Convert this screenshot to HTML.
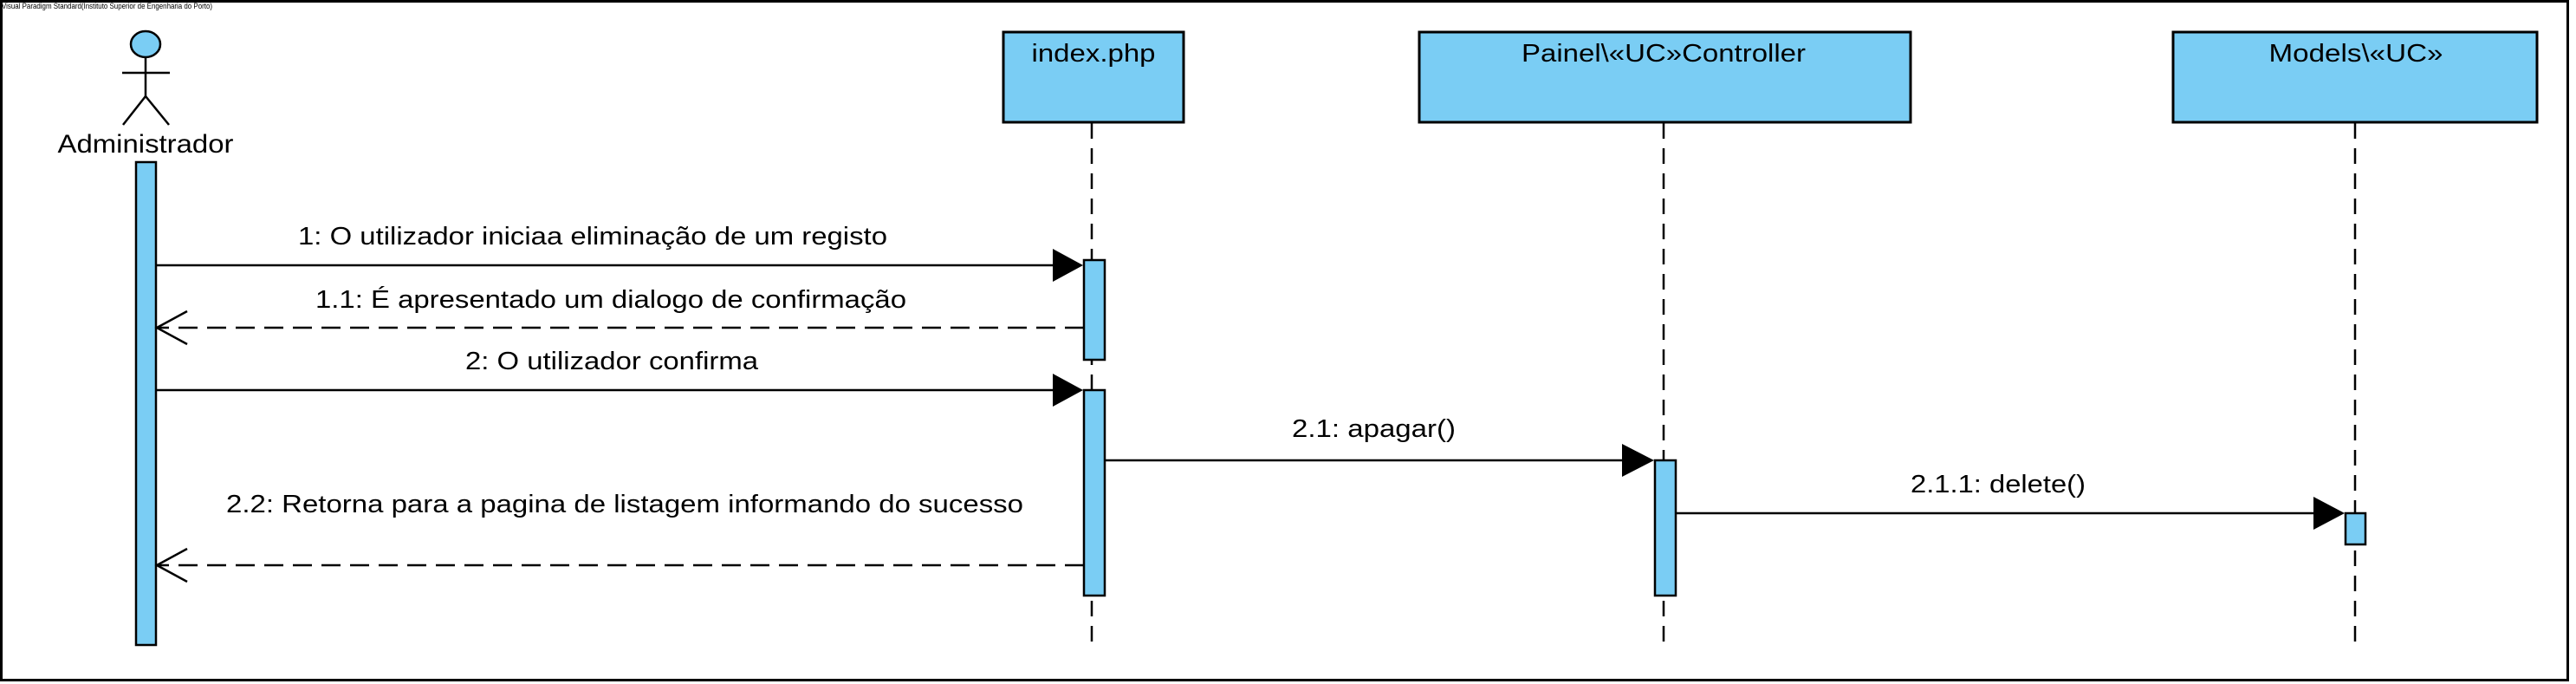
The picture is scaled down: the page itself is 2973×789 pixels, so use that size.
<!DOCTYPE html>
<html><head><meta charset="utf-8"><style>
html,body{margin:0;padding:0;background:#fff;}
svg{display:block;}
text{font-family:"Liberation Sans",Arial,sans-serif;fill:#000;}
</style></head><body>
<svg width="2973" height="789" viewBox="0 0 2973 789" xmlns="http://www.w3.org/2000/svg">
<rect x="1.5" y="1.5" width="2962" height="783" fill="#fff" stroke="#000" stroke-width="3"/>
<text x="2" y="10" font-size="9" textLength="243" lengthAdjust="spacingAndGlyphs" fill="#555">Visual Paradigm Standard(Instituto Superior de Engenharia do Porto)</text>

<!-- Actor -->
<g stroke="#000" stroke-width="2.5" fill="none">
<ellipse cx="168" cy="51" rx="17" ry="15" fill="#7ACDF4"/>
<line x1="168" y1="66" x2="168" y2="111"/>
<line x1="141" y1="84" x2="196" y2="84"/>
<line x1="168" y1="111" x2="142" y2="144"/>
<line x1="168" y1="111" x2="195" y2="144"/>
</g>
<text x="168" y="176" font-size="30" text-anchor="middle" textLength="203" lengthAdjust="spacingAndGlyphs">Administrador</text>

<!-- Boxes -->
<g stroke="#000" stroke-width="3" fill="#7ACDF4">
<rect x="1158" y="37" width="208" height="104"/>
<rect x="1638" y="37" width="567" height="104"/>
<rect x="2508" y="37" width="420" height="104"/>
</g>
<text x="1262" y="71" font-size="29" text-anchor="middle" textLength="143" lengthAdjust="spacingAndGlyphs">index.php</text>
<text x="1920" y="71" font-size="29" text-anchor="middle" textLength="328" lengthAdjust="spacingAndGlyphs">Painel\«UC»Controller</text>
<text x="2719" y="71" font-size="29" text-anchor="middle" textLength="201" lengthAdjust="spacingAndGlyphs">Models\«UC»</text>

<!-- Lifelines -->
<g stroke="#000" stroke-width="2.5" stroke-dasharray="18,11">
<line x1="1260" y1="142" x2="1260" y2="748"/>
<line x1="1920" y1="142" x2="1920" y2="748"/>
<line x1="2718" y1="142" x2="2718" y2="748"/>
</g>

<!-- Activations -->
<g stroke="#000" stroke-width="2.5" fill="#7ACDF4">
<rect x="157" y="187" width="23" height="557"/>
<rect x="1251" y="300" width="24" height="115"/>
<rect x="1251" y="450" width="24" height="237"/>
<rect x="1910" y="531" width="24" height="156"/>
<rect x="2707" y="592" width="23" height="36"/>
</g>

<!-- Messages -->
<g stroke="#000" stroke-width="2.5" fill="none">
<line x1="180" y1="306" x2="1218" y2="306"/>
<line x1="180" y1="450" x2="1218" y2="450"/>
<line x1="1275" y1="531" x2="1875" y2="531"/>
<line x1="1934" y1="592" x2="2672" y2="592"/>
<line x1="1251" y1="378" x2="182" y2="378" stroke-dasharray="22,11"/>
<line x1="1251" y1="652" x2="182" y2="652" stroke-dasharray="22,11"/>
<polyline points="216,359 181,378 216,397"/>
<polyline points="216,633 181,652 216,671"/>
</g>
<g fill="#000">
<polygon points="1215,287 1250,306 1215,325"/>
<polygon points="1215,431 1250,450 1215,469"/>
<polygon points="1872,512 1909,531 1872,550"/>
<polygon points="2670,573 2706,592 2670,611"/>
</g>

<!-- Labels -->
<g font-size="29">
<text x="344" y="282" textLength="680" lengthAdjust="spacingAndGlyphs">1: O utilizador iniciaa eliminação de um registo</text>
<text x="364" y="355" textLength="682" lengthAdjust="spacingAndGlyphs">1.1: É apresentado um dialogo de confirmação</text>
<text x="537" y="426" textLength="338" lengthAdjust="spacingAndGlyphs">2: O utilizador confirma</text>
<text x="261" y="591" textLength="920" lengthAdjust="spacingAndGlyphs">2.2: Retorna para a pagina de listagem informando do sucesso</text>
<text x="1491" y="504" textLength="189" lengthAdjust="spacingAndGlyphs">2.1: apagar()</text>
<text x="2205" y="568" textLength="202" lengthAdjust="spacingAndGlyphs">2.1.1: delete()</text>
</g>
</svg>
</body></html>
